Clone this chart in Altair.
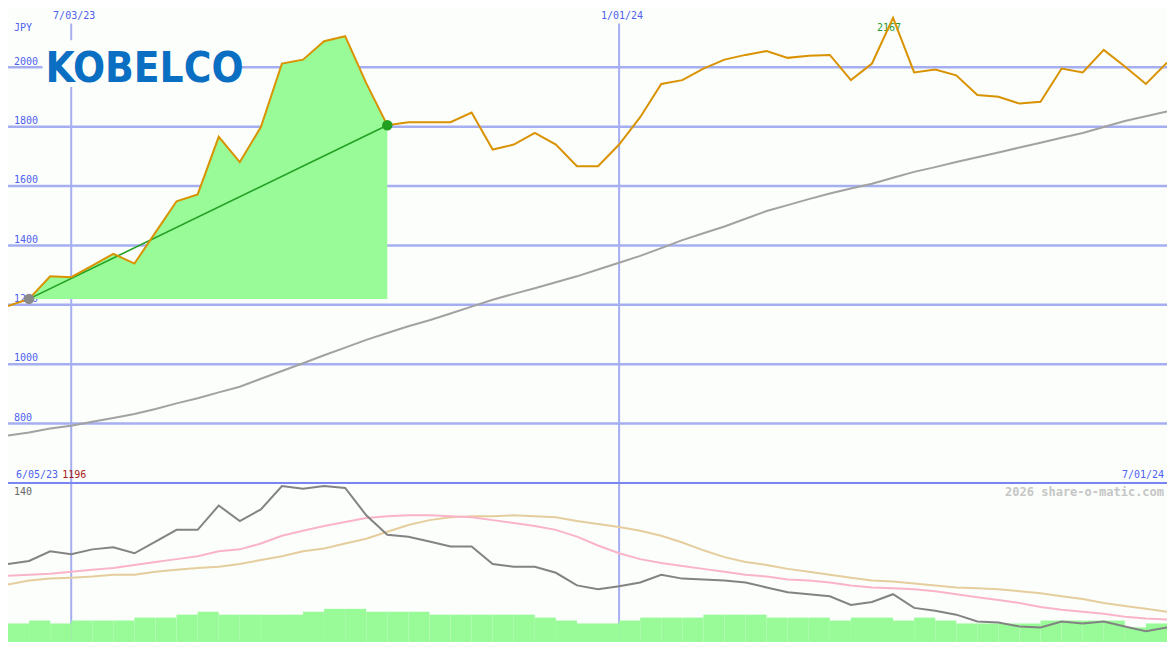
import altair as alt
import pandas as pd

# ---------------- data ----------------
dates = pd.date_range("2023-06-12", periods=56, freq="7D").strftime("%Y-%m-%d").tolist()

price = [1196, 1220, 1296, 1293, 1332, 1372, 1339, 1444, 1549, 1572,
         1766, 1681, 1799, 2013, 2026, 2088, 2105, 1947, 1805, 1815,
         1815, 1815, 1848, 1723, 1740, 1779, 1740, 1667, 1667, 1740,
         1832, 1944, 1957, 1996, 2026, 2042, 2055, 2032, 2039, 2042,
         1957, 2013, 2167, 1983, 1993, 1973, 1907, 1901, 1878, 1884,
         1996, 1983, 2059, 2003, 1944, 2016]

ma_long = [760, 770, 783, 793, 806, 819, 832, 849, 868, 885,
           905, 924, 951, 977, 1003, 1030, 1056, 1082, 1105, 1128,
           1148, 1171, 1194, 1217, 1237, 1256, 1276, 1296, 1319, 1342,
           1365, 1391, 1418, 1441, 1464, 1490, 1516, 1536, 1556, 1575,
           1592, 1608, 1628, 1648, 1664, 1681, 1697, 1713, 1730, 1746,
           1763, 1779, 1799, 1819, 1835, 1851]

osc_main = [73.6, 76.4, 85.6, 82.8, 87.4, 89.3, 83.7, 94.8, 105.8, 105.8,
            128.8, 114.1, 125.1, 147.2, 144.5, 147.2, 145.4, 119.6, 101.2, 99.4,
            94.8, 90.2, 90.2, 73.6, 70.9, 70.9, 65.3, 53.4, 49.7, 52.5,
            56.1, 63.5, 59.8, 58.9, 58.0, 56.1, 51.5, 46.9, 45.1, 43.2,
            35.0, 37.7, 45.1, 32.2, 29.4, 25.8, 19.3, 18.4, 14.7, 13.8,
            19.3, 17.5, 19.3, 14.7, 10.1, 13.8]

osc_pink = [62.6, 63.5, 64.4, 66.3, 68.1, 69.9, 72.7, 75.5, 78.2, 81.0,
            85.6, 87.4, 92.9, 100.3, 104.9, 109.5, 113.2, 116.9, 118.7, 119.6,
            119.6, 118.7, 117.8, 115.0, 112.3, 109.5, 105.8, 99.4, 91.1, 83.7,
            78.2, 74.5, 71.8, 69.0, 66.3, 63.5, 61.7, 58.9, 58.0, 56.1,
            53.4, 51.5, 50.6, 49.7, 47.9, 45.1, 42.3, 39.6, 36.8, 33.1,
            30.4, 28.5, 26.7, 23.9, 22.1, 21.2]

osc_tan = [54.3, 58.0, 59.8, 60.7, 61.7, 63.5, 63.5, 66.3, 68.1, 69.9,
           70.9, 73.6, 77.3, 81.0, 85.6, 88.3, 92.9, 97.5, 104.0, 110.4,
           115.0, 117.8, 118.7, 118.7, 119.6, 118.7, 117.8, 114.1, 111.3, 108.6,
           104.9, 100.3, 93.9, 86.5, 80.1, 75.5, 72.7, 69.0, 66.3, 63.5,
           60.7, 58.0, 57.1, 55.2, 53.4, 51.5, 50.6, 49.7, 47.9, 46.0,
           43.2, 40.5, 36.8, 34.0, 31.3, 28.5]

volume = [19, 22, 19, 22, 22, 22, 25, 25, 28, 31,
          28, 28, 28, 28, 31, 34, 34, 31, 31, 31,
          28, 28, 28, 28, 28, 25, 22, 19, 19, 22,
          25, 25, 25, 28, 28, 28, 25, 25, 25, 22,
          25, 25, 22, 25, 22, 19, 19, 19, 19, 22,
          22, 22, 22, 15, 19]

grid_values = [800, 1000, 1200, 1400, 1600, 1800, 2000]
vgrid_dates = ["2023-07-03", "2024-01-01"]
vgrid_labels = ["7/03/23", "1/01/24"]
start_label = "6/05/23"
end_label = "7/01/24"
hl_start, hl_end = 1, 18   # highlighted rise period (indices)

# ---------------- layout / styles ----------------
W, H = 1159, 634
SX, SY = W / 1175, H / 650
BG = "#fbfefb"
GRID = "#a6aef2"
SEP = "#7886f2"
LBL = "#4f5ff0"
FONT = "DejaVu Sans Mono"

x_scale = alt.Scale(domain=[alt.DateTime(year=2023, month=6, date=12, utc=True),
                            alt.DateTime(year=2024, month=7, date=1, utc=True)],
                    nice=False, padding=0)
py = alt.Scale(domain=[64.1, 2200], nice=False, zero=False)
ly = alt.Scale(domain=[0, 598.2], nice=False, zero=False)
vy = alt.Scale(domain=[0, 650], nice=False, zero=False)

X = alt.X("date:T", scale=x_scale, axis=None)

df = pd.DataFrame({"date": dates, "price": price, "ma": ma_long,
                   "osc": osc_main, "pink": osc_pink, "tan": osc_tan})
one = pd.DataFrame({"k": [0]})

def label(text, x, y, color=LBL, align="left", size=10, weight="normal", font=FONT):
    return alt.Chart(one).mark_text(text=text, color=color, align=align, baseline="middle",
                                    fontSize=size, fontWeight=weight, font=font).encode(
        x=alt.value(x * SX), y=alt.value(y * SY))

layers = []

# horizontal gridlines + labels
gdf = pd.DataFrame({"v": grid_values, "t": [str(v) for v in grid_values]})
layers.append(alt.Chart(gdf).mark_rule(color=GRID, strokeWidth=2.5).encode(
    y=alt.Y("v:Q", scale=py, axis=None), x=alt.value(0), x2=alt.value(W)))
layers.append(alt.Chart(gdf).mark_text(color=LBL, align="left", baseline="middle",
                                       fontSize=10, font=FONT, dy=-6 * SY).encode(
    y=alt.Y("v:Q", scale=py, axis=None), x=alt.value(6 * SX), text="t:N"))

# vertical gridlines + date labels
vdf = pd.DataFrame({"date": vgrid_dates, "t": vgrid_labels})
layers.append(alt.Chart(vdf).mark_rule(color=GRID, strokeWidth=2).encode(
    x=X, y=alt.value(16 * SY), y2=alt.value(H)))
layers.append(alt.Chart(vdf).mark_text(color=LBL, align="center", baseline="middle",
                                       fontSize=10, font=FONT, dx=3 * SX).encode(
    x=X, y=alt.value(8 * SY), text="t:N"))

# separator between panels
layers.append(alt.Chart(one).mark_rule(color=SEP, strokeWidth=2).encode(
    y=alt.value(487 * SY), x=alt.value(0), x2=alt.value(W)))

# logo
layers.append(alt.Chart(one).mark_rect(color=BG).encode(
    x=alt.value(35 * SX), x2=alt.value(234 * SX), y=alt.value(33 * SY), y2=alt.value(81 * SY)))
layers.append(alt.Chart(one).mark_text(text="KOBELCO", color="#0a6fc2", align="left",
                                       baseline="alphabetic", fontSize=42, fontWeight="bold",
                                       font="DejaVu Sans Condensed, DejaVu Sans, sans-serif").encode(
    x=alt.value(38 * SX), y=alt.value(76 * SY)))

# text labels
layers.append(label("JPY", 6, 21))
layers.append(label(start_label, 8, 479))
layers.append(label(str(price[0]), 55, 479, color="#a81818"))
layers.append(label(end_label, 1172, 479, align="right"))
layers.append(label("140", 6, 496, color="#666666"))
layers.append(label("0", 6, 642, color="#666666"))
layers.append(label("2026 share-o-matic.com", 1172, 496, color="#c6c6c6", align="right",
                    size=12, weight="bold"))

# highlighted rise area
adf = df.iloc[hl_start:hl_end + 1].copy()
adf["base"] = price[hl_start]
layers.append(alt.Chart(adf).mark_area(color="#98fb98", opacity=1).encode(
    x=X, y=alt.Y("price:Q", scale=py, axis=None), y2="base:Q"))

# long moving average
layers.append(alt.Chart(df).mark_line(color="#a2a2a2", strokeWidth=2).encode(
    x=X, y=alt.Y("ma:Q", scale=py, axis=None)))

# trend line of highlighted period
tdf = df.iloc[[hl_start, hl_end]].copy()
tdf["c"] = ["#8a8a8a", "#22a022"]
layers.append(alt.Chart(tdf).mark_line(color="#23a023", strokeWidth=1.6).encode(
    x=X, y=alt.Y("price:Q", scale=py, axis=None)))

# peak label
imax = price.index(max(price))
pdf = df.iloc[[imax]]
layers.append(alt.Chart(pdf).mark_text(color="#2a9a2a", align="center", baseline="middle",
                                       fontSize=10, font=FONT, dy=10 * SY, dx=-4 * SX).encode(
    x=X, y=alt.Y("price:Q", scale=py, axis=None), text="price:Q"))

# price line
layers.append(alt.Chart(df).mark_line(color="#d99200", strokeWidth=2).encode(
    x=X, y=alt.Y("price:Q", scale=py, axis=None)))

# marker circles
layers.append(alt.Chart(tdf).mark_circle(size=110, opacity=1).encode(
    x=X, y=alt.Y("price:Q", scale=py, axis=None), color=alt.Color("c:N", scale=None)))

# volume bars
vdf2 = pd.DataFrame({"date": dates[:-1], "date2": dates[1:], "vol": volume})
layers.append(alt.Chart(vdf2).mark_rect(color="#98fb98").encode(
    x=X, x2="date2:T", y=alt.Y("vol:Q", scale=vy, axis=None), y2=alt.value(H)))

# lower panel lines
layers.append(alt.Chart(df).mark_line(color="#e6cd9d", strokeWidth=2).encode(
    x=X, y=alt.Y("tan:Q", scale=ly, axis=None)))
layers.append(alt.Chart(df).mark_line(color="#fab4c9", strokeWidth=2).encode(
    x=X, y=alt.Y("pink:Q", scale=ly, axis=None)))
layers.append(alt.Chart(df).mark_line(color="#838383", strokeWidth=2).encode(
    x=X, y=alt.Y("osc:Q", scale=ly, axis=None)))

chart = alt.layer(*layers).resolve_scale(y="independent").properties(
    width=W, height=H, background=BG, padding=0,
    autosize=alt.AutoSizeParams(type="none")
).configure_view(stroke=None)

chart.save("out.html", embed_options={"renderer": "svg", "actions": False})
